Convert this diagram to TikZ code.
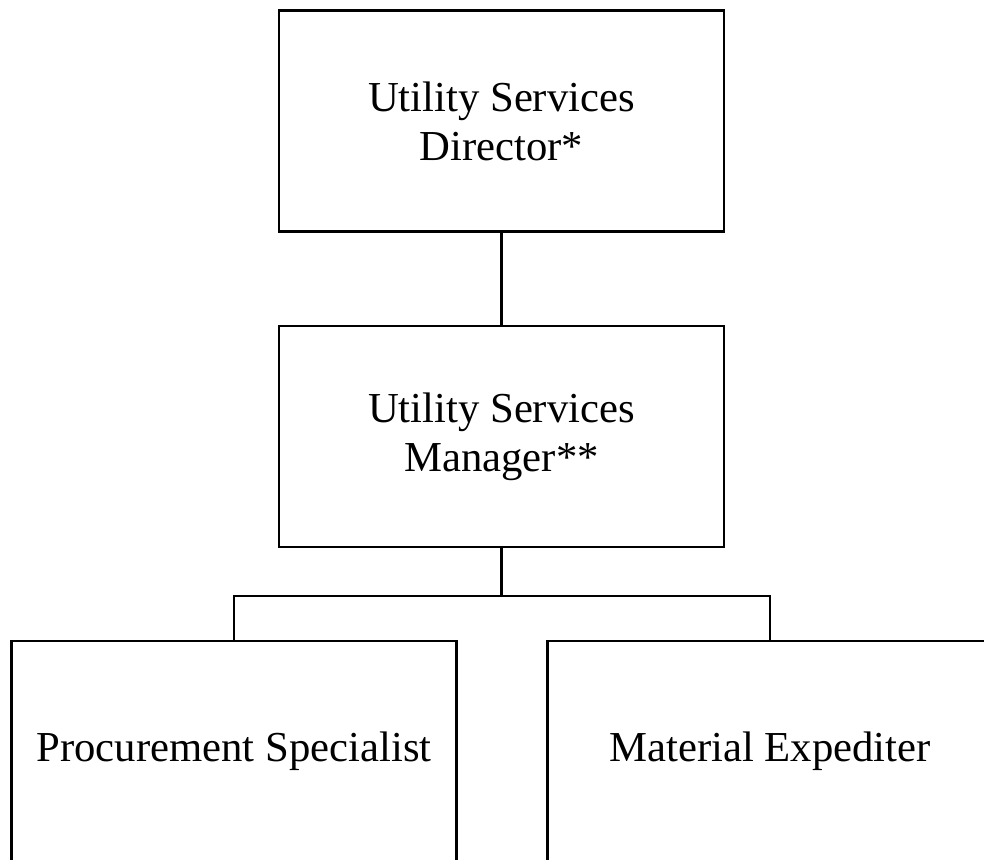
\documentclass[tikz,border=0pt]{standalone}
\usepackage{fontspec}
\setmainfont{Liberation Serif}
\begin{document}
\begin{tikzpicture}[x=1pt,y=-1pt,
  post/.style={draw=black,line width=2.6pt,minimum width=445pt,minimum height=221pt,
    inner sep=0pt,align=center,font=\fontsize{42.7}{49}\selectfont},
  link/.style={draw=black,line width=2.6pt}]
  % page frame; the lower row runs off the bottom and right edges
  \useasboundingbox (0,0) rectangle (984,859);
  \clip (0,0) rectangle (984,859);
  \fill[white] (0,0) rectangle (984,859);

  \node[post] (director) at (501.5,121) {Utility Services\\Director*};
  \node[post] (manager)  at (501.5,436.5) {Utility Services\\Manager**};
  \node[post] (procure)  at (234,751.5) {Procurement Specialist};
  \node[post] (expedite) at (770,751.5) {Material Expediter};

  \coordinate (branch) at (501.5,596);

  \draw[link] (director.south) -- (manager.north);
  \draw[link] (manager.south) -- (branch);
  \draw[link] (procure.north) |- (branch) -| (expedite.north);
\end{tikzpicture}
\end{document}
